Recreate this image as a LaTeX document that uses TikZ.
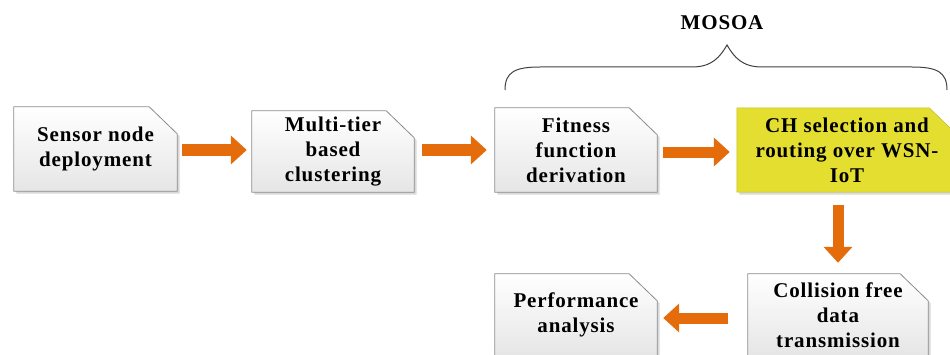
\documentclass[tikz,border=0pt]{standalone}
\usepackage{fontspec}
\setmainfont{Liberation Serif}[LetterSpace=4]
\usetikzlibrary{arrows.meta,shadows}
\definecolor{arr}{RGB}{228,108,10}
\definecolor{boxline}{RGB}{140,140,140}
\definecolor{ylw}{RGB}{228,222,48}
\definecolor{brc}{RGB}{64,64,64}
\pgfdeclarelayer{background}
\pgfsetlayers{background,main}
\newcommand\cutbox[2]{\path[#2] (#1.south west) -- (#1.north west)
  -- ([xshift=-28pt]#1.north east) -- ([yshift=-27pt]#1.north east)
  -- (#1.south east) -- cycle;}
\begin{document}
\begin{tikzpicture}[x=1pt,y=1pt,
  box/.style={rectangle, inner sep=0pt, align=center,
    font=\bfseries\fontsize{21}{25}\selectfont},
  grayshape/.style={draw=boxline, line width=0.8pt,
    top color=white, bottom color=black!10,
    drop shadow={shadow xshift=2.5pt, shadow yshift=-2.5pt, opacity=0.3}},
  ylwshape/.style={draw=ylw!85!black, line width=0.5pt, fill=ylw,
    drop shadow={shadow xshift=2.5pt, shadow yshift=-2.5pt, opacity=0.3}},
  flow/.style={draw=arr, line width=11pt, -{Triangle[length=16pt,width=28pt]}},
  brace/.style={draw=brc, line width=1pt}]
\useasboundingbox (0,0) rectangle (950,354);
\node[box, minimum width=163pt, minimum height=84pt] (b1) at (95.5,205) {Sensor node\\deployment};
\node[box, minimum width=162pt, minimum height=81pt] (b2) at (333,202.5) {Multi-tier\\based\\clustering};
\node[box, minimum width=162pt, minimum height=84pt] (b3) at (576,204) {Fitness\\function\\derivation};
\node[box, minimum width=220pt, minimum height=84pt] (b4) at (847,204) {CH selection and\\routing over WSN-\\IoT};
\node[box, minimum width=180pt, minimum height=82pt] (b5) at (838,39) {Collision free\\data\\transmission};
\node[box, minimum width=162pt, minimum height=82pt] (b6) at (576,39) {Performance\\analysis};
\begin{pgfonlayer}{background}
\cutbox{b1}{grayshape}
\cutbox{b2}{grayshape}
\cutbox{b3}{grayshape}
\cutbox{b4}{ylwshape}
\cutbox{b5}{grayshape}
\cutbox{b6}{grayshape}
\end{pgfonlayer}
\node[font=\bfseries\fontsize{21}{25}\selectfont] (mosoa) at (722,331) {MOSOA};
\coordinate (bl) at (505,264);
\coordinate (br) at (947,264);
\coordinate (bt) at (727,309);
\draw[brace] (bl) .. controls (505,282) and (515,287) .. (540,287) -- (692,287)
  .. controls (712,287) and (720,297) .. (bt)
  .. controls (734,297) and (742,287) .. (762,287) -- (912,287)
  .. controls (937,287) and (947,282) .. (br);
\draw[flow] ([xshift=5pt]b1.east |- 0,204) -- ([xshift=-5pt]b2.west |- 0,204);
\draw[flow] ([xshift=8pt]b2.east |- 0,204) -- ([xshift=-8pt]b3.west |- 0,204);
\draw[flow] ([xshift=6pt]b3.east |- 0,202) -- ([xshift=-7pt]b4.west |- 0,202);
\draw[flow] ([yshift=-13pt]b4.south -| b5.north) -- ([yshift=11pt]b5.north);
\draw[flow] ([xshift=-20pt]b5.west |- 0,36) -- ([xshift=6pt]b6.east |- 0,36);
\end{tikzpicture}
\end{document}
